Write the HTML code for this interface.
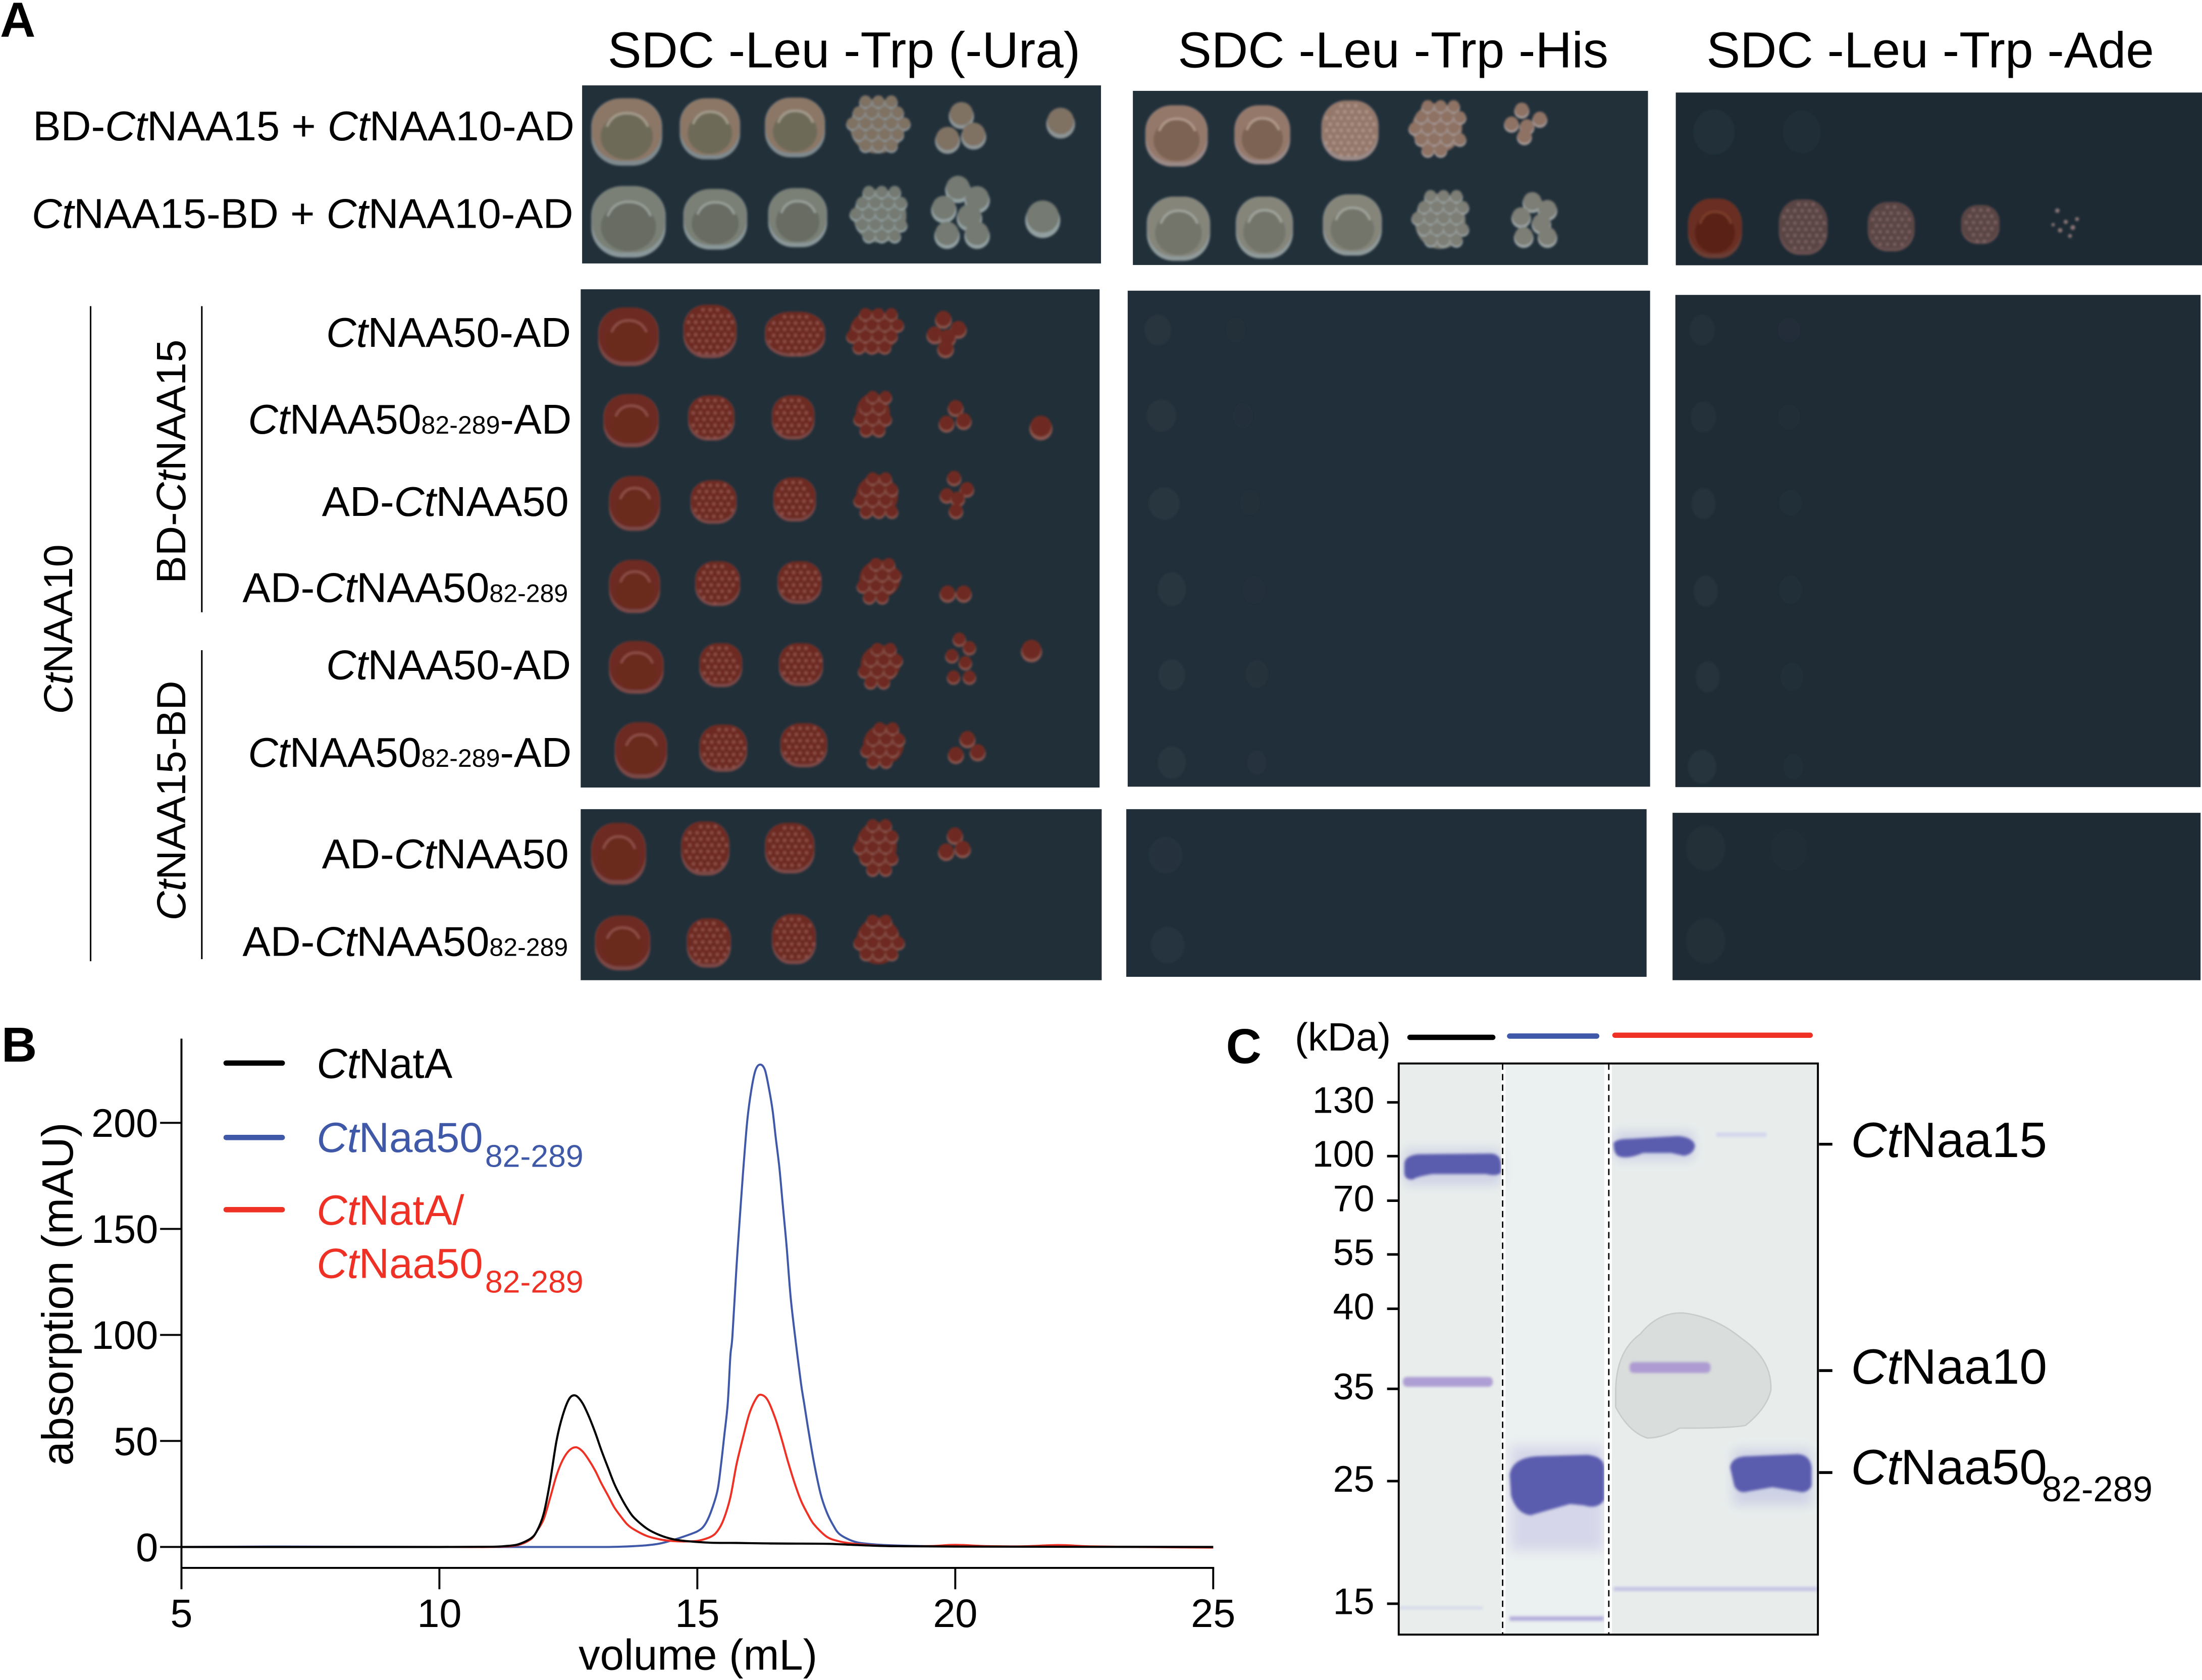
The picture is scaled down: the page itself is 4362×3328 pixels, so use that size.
<!DOCTYPE html>
<html lang="en">
<head>
<meta charset="utf-8">
<title>CtNatA and CtNaa50 interaction figure</title>
<style>
html,body{margin:0;padding:0;background:#fff;}
svg{display:block;}
text{font-family:"Liberation Sans",sans-serif;fill:#000;}
.i{font-style:italic;}
.rl{font-size:29.85px;text-anchor:end;}
.rc{font-size:29.6px;text-anchor:end;}
.rs{font-size:18px;}
.hd{font-size:36px;text-anchor:middle;}
.pl{font-size:35px;font-weight:bold;}
.tk{font-size:30px;}
.tn{font-size:28.5px;}
.kd{font-size:26.5px;text-anchor:end;}
.pr{font-size:35.4px;}
</style>
</head>
<body>
<svg id="fig" xmlns="http://www.w3.org/2000/svg" width="4362" height="3328" viewBox="0 0 1568 1196.33">
<defs>
<filter id="b03" x="-5%" y="-5%" width="110%" height="110%"><feGaussianBlur stdDeviation="0.75"/></filter>
<filter id="b1" x="-20%" y="-40%" width="140%" height="180%"><feGaussianBlur stdDeviation="1"/></filter>
<filter id="b4" x="-30%" y="-60%" width="160%" height="220%"><feGaussianBlur stdDeviation="4"/></filter>
</defs>

<rect x="0" y="0" width="1568" height="1197" fill="#fff"/>

<text class="pl" x="0" y="26">A</text>
<text class="pl" x="1" y="756">B</text>
<text class="pl" x="873" y="757">C</text>

<text class="hd" x="601" y="48">SDC -Leu -Trp (-Ura)</text>
<text class="hd" x="992" y="48">SDC -Leu -Trp -His</text>
<text class="hd" x="1374.5" y="48">SDC -Leu -Trp -Ade</text>

<g>
<rect x="414.5" y="60.8" width="369.5" height="126.8" fill="#22303a"/>
<rect x="806.7" y="64.7" width="366.8" height="124" fill="#22303a"/>
<rect x="1193.3" y="65.9" width="374.7" height="123" fill="#1d2a34"/>
<rect x="413.5" y="206" width="369.5" height="354.8" fill="#212f39"/>
<rect x="803" y="207" width="372" height="353.2" fill="#212f3a"/>
<rect x="1193" y="210" width="374" height="350.5" fill="#1f2c36"/>
<rect x="413.5" y="576.2" width="371" height="121.8" fill="#212f39"/>
<rect x="802" y="576.2" width="370.5" height="119.4" fill="#202e3a"/>
<rect x="1191" y="578.8" width="376" height="119.2" fill="#1e2b35"/>
</g>
<g id="spots" filter="url(#b03)"></g>

<g>
<text class="rl" x="409" y="100">BD-<tspan class="i">Ct</tspan>NAA15 + <tspan class="i">Ct</tspan>NAA10-AD</text>
<text class="rl" x="408.2" y="162.3"><tspan class="i">Ct</tspan>NAA15-BD + <tspan class="i">Ct</tspan>NAA10-AD</text>
<text class="rc" x="406.6" y="247"><tspan class="i">Ct</tspan>NAA50-AD</text>
<text class="rc" x="407" y="308.7"><tspan class="i">Ct</tspan>NAA50<tspan class="rs">82-289</tspan>-AD</text>
<text class="rl" x="405" y="367.4">AD-<tspan class="i">Ct</tspan>NAA50</text>
<text class="rl" x="404.5" y="428.7">AD-<tspan class="i">Ct</tspan>NAA50<tspan class="rs">82-289</tspan></text>
<text class="rc" x="406.6" y="483.7"><tspan class="i">Ct</tspan>NAA50-AD</text>
<text class="rc" x="407" y="546"><tspan class="i">Ct</tspan>NAA50<tspan class="rs">82-289</tspan>-AD</text>
<text class="rl" x="405" y="618.3">AD-<tspan class="i">Ct</tspan>NAA50</text>
<text class="rl" x="404.5" y="680.7">AD-<tspan class="i">Ct</tspan>NAA50<tspan class="rs">82-289</tspan></text>
</g>

<g>
<text transform="translate(51.4 508.5) rotate(-90)" style="font-size:29px"><tspan class="i">Ct</tspan>NAA10</text>
<text transform="translate(132 415.5) rotate(-90)" style="font-size:29.5px">BD-<tspan class="i">Ct</tspan>NAA15</text>
<text transform="translate(132 655.5) rotate(-90)" style="font-size:29px"><tspan class="i">Ct</tspan>NAA15-BD</text>
<line x1="64.5" y1="218" x2="64.5" y2="684.5" stroke="#000" stroke-width="1.1"/>
<line x1="143.7" y1="218" x2="143.7" y2="436" stroke="#000" stroke-width="1.1"/>
<line x1="143.7" y1="463" x2="143.7" y2="683" stroke="#000" stroke-width="1.1"/>
</g>

<g id="chart"></g>

<g>
<rect x="996" y="757.3" width="73" height="406.7" fill="#e9eeec"/>
<rect x="1072" y="757.3" width="70.4" height="406.7" fill="#ebf0f0"/>
<rect x="1147.8" y="757.3" width="146.7" height="406.7" fill="#e8edec"/>

<path d="M1150.5 990 Q1151 962 1168 950 Q1181 934 1199 935 Q1222 938 1240 953 Q1262 968 1261 990 Q1258 1003 1243 1015 Q1234 1017 1196 1017 Q1184 1024 1173 1024 Q1160 1020 1150.5 1002Z" fill="#d9dddb" stroke="#c8cccb" stroke-width="1"/>

<g filter="url(#b4)" opacity="0.32">
<rect x="1000" y="818" width="69" height="26" fill="#9a9ad8"/>
<rect x="1076" y="1030" width="66" height="74" fill="#a9a2dc"/>
<rect x="1150" y="806" width="56" height="20" fill="#9a9ad8"/>
<rect x="1234" y="1032" width="56" height="40" fill="#9a9ad8"/>
</g>
<g filter="url(#b1)">
<path d="M1000 829 Q1000 823 1010 822 L1062 821.5 Q1069 822 1069 830 L1069 835 Q1066 838 1058 836 L1020 836 Q1008 838 1006 840 Q1000 840 1000 835Z" fill="#5a5cae"/>
<path d="M1075 1050 Q1077 1038 1095 1037 L1130 1036 Q1142 1037 1142.4 1045 L1142.4 1068 Q1138 1075 1128 1072 L1118 1071 Q1100 1076 1090 1079 Q1080 1078 1076 1065Z" fill="#5a5cae"/>
<path d="M1149 814 Q1151 811 1160 811 L1195 809 Q1206 810 1207 816 Q1206 822 1199 823 L1190 821 L1170 821 Q1158 826 1152 823 Q1149 821 1149 814Z" fill="#5a5cae"/>
<path d="M1232 1045 Q1233 1037 1245 1037 L1280 1035.5 Q1289 1036 1290 1045 L1290 1058 Q1287 1064 1280 1062 L1262 1059 L1245 1062 Q1238 1064 1235 1058Z" fill="#5a5cae"/>
<rect x="999" y="980.5" width="64" height="7" rx="3" fill="#ad9ed4"/>
<rect x="1160.4" y="970" width="57.6" height="7.7" rx="3" fill="#ad9bd2"/>
<rect x="1222" y="806.5" width="36" height="3" fill="#d3d5ec"/>
<rect x="996" y="1144" width="60" height="2" fill="#d4d8ea"/>
<rect x="1075" y="1151" width="67" height="3.2" fill="#b4aedc"/>
<rect x="1149" y="1130" width="145" height="3" fill="#c6c4e4"/>
</g>

<rect x="1069" y="757.3" width="3" height="406.7" fill="#fff"/>
<rect x="1142.4" y="757.3" width="5.4" height="406.7" fill="#fff"/>
<line x1="1070" y1="757.3" x2="1070" y2="1164" stroke="#000" stroke-width="1" stroke-dasharray="4.5 3"/>
<line x1="1145.6" y1="757.3" x2="1145.6" y2="1164" stroke="#000" stroke-width="1" stroke-dasharray="4.5 3"/>
<rect x="996" y="757.3" width="298.5" height="406.7" fill="none" stroke="#000" stroke-width="1.4"/>

<text x="922" y="748" style="font-size:28px">(kDa)</text>
<line x1="1004" y1="738.7" x2="1063" y2="738.7" stroke="#000" stroke-width="3.8" stroke-linecap="round"/>
<line x1="1075" y1="737.8" x2="1137" y2="737.8" stroke="#3f58a8" stroke-width="3.8" stroke-linecap="round"/>
<line x1="1150" y1="737.2" x2="1289" y2="737.2" stroke="#ee3124" stroke-width="3.8" stroke-linecap="round"/>
<g id="ladder"></g>

<line x1="1295.3" y1="814.8" x2="1304.8" y2="814.8" stroke="#000" stroke-width="2"/>
<line x1="1295.3" y1="976" x2="1304.8" y2="976" stroke="#000" stroke-width="2"/>
<line x1="1295.3" y1="1048.6" x2="1304.8" y2="1048.6" stroke="#000" stroke-width="2"/>
<text class="pr" x="1318" y="824"><tspan class="i">Ct</tspan>Naa15</text>
<text class="pr" x="1318" y="985.3"><tspan class="i">Ct</tspan>Naa10</text>
<text class="pr" x="1318" y="1056.8"><tspan class="i">Ct</tspan>Naa50</text>
<text x="1454" y="1069" style="font-size:25.3px">82-289</text>
</g>

<script>
/* ---------- SEC chart data ---------- */
var xTickValues = [5, 10, 15, 20, 25];
var yTickValues = [0, 50, 100, 150, 200];
var blackVolume = [5, 8, 10, 11, 11.27, 11.52, 11.77, 11.89, 12.02, 12.14, 12.27, 12.39, 12.52, 12.64, 12.77, 12.89, 13.02, 13.14, 13.27, 13.39, 13.52, 13.64, 13.77, 14.02, 14.27, 14.52, 14.77, 15.26, 15.76, 16.26, 16.76, 17.51, 18.01, 18.76, 20, 22, 25];
var blackValues = [0, 0, 0, 0.1, 0.4, 1.2, 4, 7.5, 15.5, 30, 50, 62, 70, 71.4, 68, 62, 54, 45.6, 37.3, 29.8, 23.4, 18.3, 13.9, 8.7, 5.6, 3.7, 2.8, 2, 1.9, 1.7, 1.6, 1.5, 1, 0.4, 0.2, 0.1, 0];
var blueVolume = [5, 7, 10, 13, 13.27, 13.52, 13.77, 14.02, 14.27, 14.52, 14.77, 15.01, 15.14, 15.26, 15.39, 15.46, 15.52, 15.59, 15.64, 15.68, 15.76, 15.84, 15.9, 15.97, 16.05, 16.13, 16.22, 16.31, 16.39, 16.46, 16.52, 16.59, 16.65, 16.73, 16.81, 16.91, 17.01, 17.07, 17.14, 17.26, 17.39, 17.51, 17.64, 17.76, 18.01, 18.26, 18.76, 20, 25];
var blueValues = [0, 0.2, 0, 0, 0, 0.15, 0.4, 0.8, 1.6, 3.2, 5.2, 7.5, 10.3, 16.3, 26.6, 39, 52, 67.8, 89.9, 99.4, 132.4, 161, 181, 201.5, 216, 225, 227.5, 225, 216, 205.7, 193, 179, 163, 142, 117.5, 96.3, 77, 67.8, 57, 40, 25, 16.3, 10, 6, 2.8, 1.6, 0.8, 0.3, 0];
var redVolume = [5, 10, 11, 11.5, 11.77, 11.89, 12.02, 12.14, 12.27, 12.39, 12.52, 12.65, 12.77, 12.89, 13.02, 13.14, 13.27, 13.39, 13.52, 13.64, 13.77, 14.02, 14.27, 14.52, 14.77, 15.01, 15.26, 15.39, 15.51, 15.64, 15.76, 15.89, 16.01, 16.14, 16.23, 16.36, 16.51, 16.64, 16.76, 16.89, 17.01, 17.14, 17.26, 17.51, 17.76, 18.01, 18.26, 18.76, 19.5, 20, 20.6, 21.3, 22, 22.6, 23.5, 25];
var redValues = [0, 0, 0, 0.8, 3.6, 7.5, 13, 22.6, 33.7, 41, 45.6, 47, 45.2, 41.3, 36, 30, 24.2, 18.7, 14.3, 10.7, 8.3, 5.2, 3.6, 2.8, 2.6, 2.9, 4.8, 7.5, 13, 23.4, 39, 52, 63, 70, 71.8, 69.4, 60.7, 50.4, 40, 29.8, 21.8, 15.5, 10.7, 4.8, 2.6, 1.6, 1, 0.4, 0.4, 1, 0.4, 0.3, 0.9, 0.3, 0, -0.3];

/* ---------- chart axes ---------- */
var svgNS = 'http://www.w3.org/2000/svg';
var chart = document.getElementById('chart');
function xScale(v){ return 129.2 + (v - 5) * 36.735; }
function yScale(a){ return 1101.6 - a * 1.51; }
function mk(tag, attrs, parent){
  var e = document.createElementNS(svgNS, tag);
  for (var k in attrs) e.setAttribute(k, attrs[k]);
  parent.appendChild(e);
  return e;
}
function smoothPath(xs, ys){
  var p = [];
  for (var i = 0; i < xs.length; i++) p.push([xScale(xs[i]), yScale(ys[i])]);
  var d = 'M' + p[0][0].toFixed(2) + ' ' + p[0][1].toFixed(2);
  for (var j = 0; j < p.length - 1; j++){
    var a = p[Math.max(j - 1, 0)], b = p[j], c = p[j + 1], e = p[Math.min(j + 2, p.length - 1)];
    var t = 0.16;
    d += 'C' + (b[0] + (c[0] - a[0]) * t).toFixed(2) + ' ' + (b[1] + (c[1] - a[1]) * t).toFixed(2) + ' ' +
         (c[0] - (e[0] - b[0]) * t).toFixed(2) + ' ' + (c[1] - (e[1] - b[1]) * t).toFixed(2) + ' ' +
         c[0].toFixed(2) + ' ' + c[1].toFixed(2);
  }
  return d;
}

var yAxis = mk('line', {x1:xScale(5), y1:739.6, x2:xScale(5), y2:1117.2, stroke:'#000', 'stroke-width':1.4}, chart);


var xAxis = mk('line', {x1:xScale(5) - 0.7, y1:1116.5, x2:xScale(25) + 0.7, y2:1116.5, stroke:'#000', 'stroke-width':1.4}, chart);



xTickValues.forEach(function(v){
  var t = mk('line', {x1:xScale(v), y1:1116.5, x2:xScale(v), y2:1131.7, stroke:'#000', 'stroke-width':1.4}, chart);
  
  
  var l = mk('text', {x:xScale(v), y:1158.5, 'text-anchor':'middle', 'class':'tn'}, chart);
  
  
  l.textContent = v;
});
yTickValues.forEach(function(a){
  var t = mk('line', {x1:114, y1:yScale(a), x2:xScale(5), y2:yScale(a), stroke:'#000', 'stroke-width':1.4}, chart);
  
  
  var l = mk('text', {x:112.6, y:yScale(a) + 10, 'text-anchor':'end', 'class':'tn'}, chart);
  
  
  l.textContent = a;
});

var yTitle = mk('text', {transform:'translate(51.7 921.5) rotate(-90)', 'text-anchor':'middle', style:'font-size:31.2px'}, chart);


yTitle.textContent = 'absorption (mAU)';
var xTitle = mk('text', {x:497, y:1189, 'text-anchor':'middle', style:'font-size:30.6px'}, chart);


xTitle.textContent = 'volume (mL)';

var blueLine = mk('path', {d:smoothPath(blueVolume, blueValues), fill:'none', stroke:'#3f58a8', 'stroke-width':1.45}, chart);


var redLine = mk('path', {d:smoothPath(redVolume, redValues), fill:'none', stroke:'#ee3124', 'stroke-width':1.45}, chart);


var blackLine = mk('path', {d:smoothPath(blackVolume, blackValues), fill:'none', stroke:'#000', 'stroke-width':1.5}, chart);



/* ---------- chart legend ---------- */
function legendLine(y, color){
  var s = mk('line', {x1:161, y1:y, x2:201, y2:y, stroke:color, 'stroke-width':3.8, 'stroke-linecap':'round'}, chart);
  
  
}
function legendText(y, color, italicPart, rest, sub, subY){
  var t = mk('text', {x:225.5, y:y, 'class':'tk', style:'fill:' + color}, chart);
  
  
  var a = mk('tspan', {'class':'i'}, t);
  
  
  a.textContent = italicPart;
  var b = mk('tspan', {}, t);
  
  
  b.textContent = rest;
  if (sub){
    var c = mk('text', {x:345.4, y:subY, style:'font-size:22.5px;fill:' + color}, chart);
    
    
    c.textContent = sub;
  }
}
legendLine(757, '#000');
legendLine(810, '#3f58a8');
legendLine(861.4, '#ee3124');
legendText(767.6, '#000', 'Ct', 'NatA');
legendText(820.3, '#3f58a8', 'Ct', 'Naa50', '82-289', 831);
legendText(872, '#ee3124', 'Ct', 'NatA/');
legendText(910, '#ee3124', 'Ct', 'Naa50', '82-289', 920.5);

/* ---------- gel ladder ---------- */
var ladderLabels = [130, 100, 70, 55, 40, 35, 25, 15];
var ladderTickY = [785, 823.3, 855, 893.3, 932, 989, 1054.7, 1142];
var ladder = document.getElementById('ladder');
ladderLabels.forEach(function(kd, i){
  var t = mk('line', {x1:987.7, y1:ladderTickY[i], x2:996, y2:ladderTickY[i], stroke:'#000', 'stroke-width':1.8}, ladder);
  
  
  var l = mk('text', {x:978.7, y:ladderTickY[i] + 7.5, 'class':'kd'}, ladder);
  
  
  l.textContent = kd;
});

/* ---------- yeast spots ---------- */
var palettes = {
  tan:  {edge:'#7f8a8e', top:'#8c7766', base:'#6e6b59', ring:'#a49d8e', grain:'#a19a8e', colony:'#7f7264', hi:'#8d9496'},
  gray: {edge:'#8a979a', top:'#7a8076', base:'#676c64', ring:'#98a19a', grain:'#a2adab', colony:'#747a72', hi:'#93a0a2'},
  red:  {edge:'#7c4a47', top:'#6d2b20', base:'#6a2a1e', ring:'#8f4f48', grain:'#8f4f48', colony:'#6e2c22', hi:'#8a5650'},
  pink: {edge:'#9a8a88', top:'#94786a', base:'#7b6452', ring:'#b29a8c', grain:'#ad9488', colony:'#8e7263', hi:'#a59a98'},
  gray2:{edge:'#8f9a9a', top:'#85857a', base:'#73746a', ring:'#a0a59c', grain:'#a8aca4', colony:'#7d7e74', hi:'#9aa2a2'},
  dark: {edge:'#6a3c34', top:'#6a2e20', base:'#5a2418', ring:'#7d3e2c', grain:'#7d3e2c', colony:'#5a2418', hi:'#7d3e2c'},
  mauve:{edge:'#67504f', top:'#5a4444', base:'#54403f', ring:'#7b6060', grain:'#7b6060', colony:'#5d4646', hi:'#7b6464'}
};
var clusterPatterns = {
  c1:[[0.5,0.5]],
  c2:[[0.25,0.5],[0.75,0.5]],
  c3:[[0.52,0.22],[0.25,0.75],[0.76,0.66]],
  c5:[[0.4,0.18],[0.2,0.55],[0.75,0.42],[0.5,0.62],[0.45,0.88]],
  c6:[[0.42,0.14],[0.72,0.3],[0.2,0.45],[0.6,0.58],[0.25,0.85],[0.72,0.85]]
};
var spotRows = [
 ['tan',[[421,70,471.5,118,'lawn'],[484,70,527,113.5,'lawn'],[544.7,69.5,587.5,112,'lawn'],[602.6,67.6,647,112,'clump'],[665.7,74.5,702,107.8,'c3'],[745,75.7,765.5,98.6,'c1']]],
 ['gray',[[421,132.5,474,183.4,'lawn'],[486.6,134.6,532,177.7,'lawn'],[547,134,589,176,'lawn'],[605,132,648,175.4,'clump'],[663,128,708.5,174,'c6'],[730,141,755,170,'c1']]],
 ['red',[[426,219,469,260.7,'lawn'],[486.6,217,524.5,255,'grain'],[544.7,222,587.5,254,'grain'],[602.6,219,641.5,254,'clump'],[659.6,222,690,252,'c5']]],
 ['red',[[429.7,280.6,469,318.5,'lawn'],[490,281.6,523,313.7,'grain'],[549.7,281.6,580,313,'grain'],[607.7,278,635.4,312,'clump'],[668,286,692,307,'c3'],[733,296,749.4,312.7,'c1']]],
 ['red',[[433.7,339,470,378,'lawn'],[491.7,342,524.5,373,'grain'],[550.7,340,581,371.4,'grain'],[607.7,336,641.5,370,'clump'],[669,334.5,695,368,'c5']]],
 ['red',[[433.7,398.7,470,436.6,'lawn'],[495,399.7,527,431.5,'grain'],[553.7,399.7,585,430,'grain'],[610,397,643,427.6,'clump'],[669,417,692,428.6,'c2']]],
 ['red',[[433.7,456.5,472.5,494,'lawn'],[498,458,528.5,489.3,'grain'],[554.7,458,586,488.6,'grain'],[611,457.5,643,488,'clump'],[673,450,697,488,'c6'],[727,455.5,742,471,'c1']]],
 ['red',[[437.7,514.3,475,554.4,'lawn'],[498,516,532,549.6,'grain'],[555.7,515,589,546.4,'grain'],[612.7,514,645.5,546.4,'clump'],[673,521.7,703.5,543,'c3']]],
 ['red',[[421,586,460,630,'lawn'],[485,585,519.4,623.4,'grain'],[544.7,586,580,622,'grain'],[607.7,583,640.5,622,'clump'],[668,590.4,691,612,'c3']]],
 ['red',[[423.6,652,463,691,'lawn'],[489,654,520.4,689,'grain'],[549.7,651,581,686.6,'grain'],[607.7,651,643,689,'clump']]],
 ['pink',[[815.6,75,860,118.6,'lawn'],[879,75,918.7,117,'lawn'],[941,71.6,981.6,114.4,'grain'],[1003,71,1043.6,111.4,'clump'],[1069,73.7,1105.6,100.6,'c5']]],
 ['gray2',[[816.6,140,861.7,185.7,'lawn'],[880,140,920.7,184,'lawn'],[942,138.4,984,182,'lawn'],[1005,135,1046,180,'clump'],[1076,139,1112,174,'c6']]],
 ['dark',[[1202,141.4,1240.4,184,'lawn']]],
 ['mauve',[[1266.7,142,1301.4,181.5,'grain'],[1330,143.8,1363.3,179,'grain'],[1396.5,146,1423.8,173.7,'grain']]]
];
var faintSpots = [
 [824.5,235,9.5,11,0.6],[827,296,10.5,11.5,0.6],[829,358.6,11,11.5,0.7],[834.4,419.6,10,12,0.7],[834.4,480.6,9.5,11,0.7],[834.4,543,10,11.5,0.7],
 [880,235,7,9,0.18],[885,296,7,9,0.15],[890,358,7,9,0.18],[893,420,8,10,0.2],[895,480,8,10,0.3],[895,543,7,9,0.35],
 [830,609,12,13,0.45],[831.5,673,12,13,0.5],
 [1212,235,9,11,0.45],[1213,297,9,11,0.45],[1213,358.6,8.5,11,0.55],[1214.6,421,8.5,11,0.6],[1216,482,8.5,11,0.6],[1212,546,10,12,0.7],
 [1274,235,8,9,0.2],[1274,297,8,9,0.15],[1275,358,8,9,0.25],[1275,420,8,10,0.25],[1276,482,8,10,0.25],[1277,546,7,9,0.25],
 [1214.6,604,14,16,0.4],[1214.6,670,14,16,0.4],[1274,605,13,15,0.15],
 [1220.5,94,14.5,16,0.5],[1283,94,13.5,15.5,0.25]
];
var tinyColonies = [[1465,150,1.6],[1471,158,1.5],[1467,164,1.6],[1476,162,1.7],[1479,156,1.4],[1474,168,1.4],[1462,160,1.2]];

var spotsRoot = document.getElementById('spots');
function drawColony(cx, cy, r, pal){
  var h = mk('circle', {cx:cx, cy:cy + r * 0.12, r:r, fill:pal.hi}, spotsRoot);
  
  
  var c = mk('circle', {cx:cx, cy:cy - r * 0.1, r:r * 0.92, fill:pal.colony}, spotsRoot);
  
  
}
function drawGrain(x0, y0, x1, y1, pal, step, r){
  var cx = (x0 + x1) / 2, cy = (y0 + y1) / 2, rx = (x1 - x0) / 2, ry = (y1 - y0) / 2, row = 0;
  for (var y = y0 + step / 2; y < y1; y += step * 0.85, row++){
    for (var x = x0 + (row % 2 ? step : step / 2); x < x1; x += step){
      var nx = (x - cx) / rx, ny = (y - cy) / ry;
      if (nx * nx + ny * ny < 0.95){
        var g = mk('circle', {cx:x, cy:y, r:r, fill:pal.grain}, spotsRoot);
        
        
      }
    }
  }
}
spotRows.forEach(function(row){
  var pal = palettes[row[0]];
  row[1].forEach(function(s){
    var x0 = s[0], y0 = s[1], x1 = s[2], y1 = s[3], kind = s[4], w = x1 - x0, h = y1 - y0;
    if (kind === 'lawn' || kind === 'grain'){
      var o = mk('rect', {x:x0, y:y0, width:w, height:h, rx:w * 0.42, ry:h * 0.42, fill:pal.edge}, spotsRoot);
      
      
      var n = mk('rect', {x:x0 + w * 0.01, y:y0, width:w * 0.98, height:h * 0.93, rx:w * 0.42, ry:h * 0.42, fill:pal.top}, spotsRoot);
      
      
      if (kind === 'lawn'){
        var core = mk('ellipse', {cx:x0 + w * 0.5, cy:y0 + h * 0.57, rx:w * 0.37, ry:h * 0.34, fill:pal.base}, spotsRoot);
        
        
        var ar = mk('path', {d:'M' + (x0 + w * 0.22) + ' ' + (y0 + h * 0.42) + 'Q' + (x0 + w * 0.3) + ' ' + (y0 + h * 0.22) + ' ' + (x0 + w * 0.5) + ' ' + (y0 + h * 0.22) + 'Q' + (x0 + w * 0.72) + ' ' + (y0 + h * 0.22) + ' ' + (x0 + w * 0.8) + ' ' + (y0 + h * 0.42), fill:'none', stroke:pal.ring, 'stroke-width':1.6}, spotsRoot);
        
        
      } else {
        drawGrain(x0 + 1, y0 + 1, x1 - 1, y1 - 1, pal, 5.2, 1.25);
      }
    } else if (kind === 'clump'){
      var e = mk('ellipse', {cx:x0 + w / 2, cy:y0 + h / 2, rx:w * 0.44, ry:h * 0.44, fill:pal.colony}, spotsRoot);
      
      
      var step = 9.2, rowIndex = 0;
      for (var yy = y0 + 5; yy < y1 - 2; yy += step * 0.85, rowIndex++){
        for (var xx = x0 + (rowIndex % 2 ? 9 : 4.5); xx < x1 - 2; xx += step){
          var ax = (xx - (x0 + w / 2)) / (w / 2), ay = (yy - (y0 + h / 2)) / (h / 2);
          if (ax * ax + ay * ay < 0.95) drawColony(xx, yy, 4.6, pal);
        }
      }
    } else {
      var rad = kind === 'c1' ? Math.min(w, h) / 2 : kind === 'c2' ? w * 0.25 : Math.min(w, h) * (kind === 'c3' ? 0.27 : 0.2);
      clusterPatterns[kind].forEach(function(p){
        drawColony(x0 + w * p[0], y0 + h * p[1], rad, pal);
      });
    }
  });
});
faintSpots.forEach(function(f){
  var e = mk('ellipse', {cx:f[0], cy:f[1], rx:f[2], ry:f[3], fill:'#3a474c', opacity:f[4] * 0.45}, spotsRoot);
  
  
});
tinyColonies.forEach(function(t){
  var c = mk('circle', {cx:t[0], cy:t[1], r:t[2], fill:'#8a7674'}, spotsRoot);
  
  
});
</script>
</svg>
</body>
</html>
